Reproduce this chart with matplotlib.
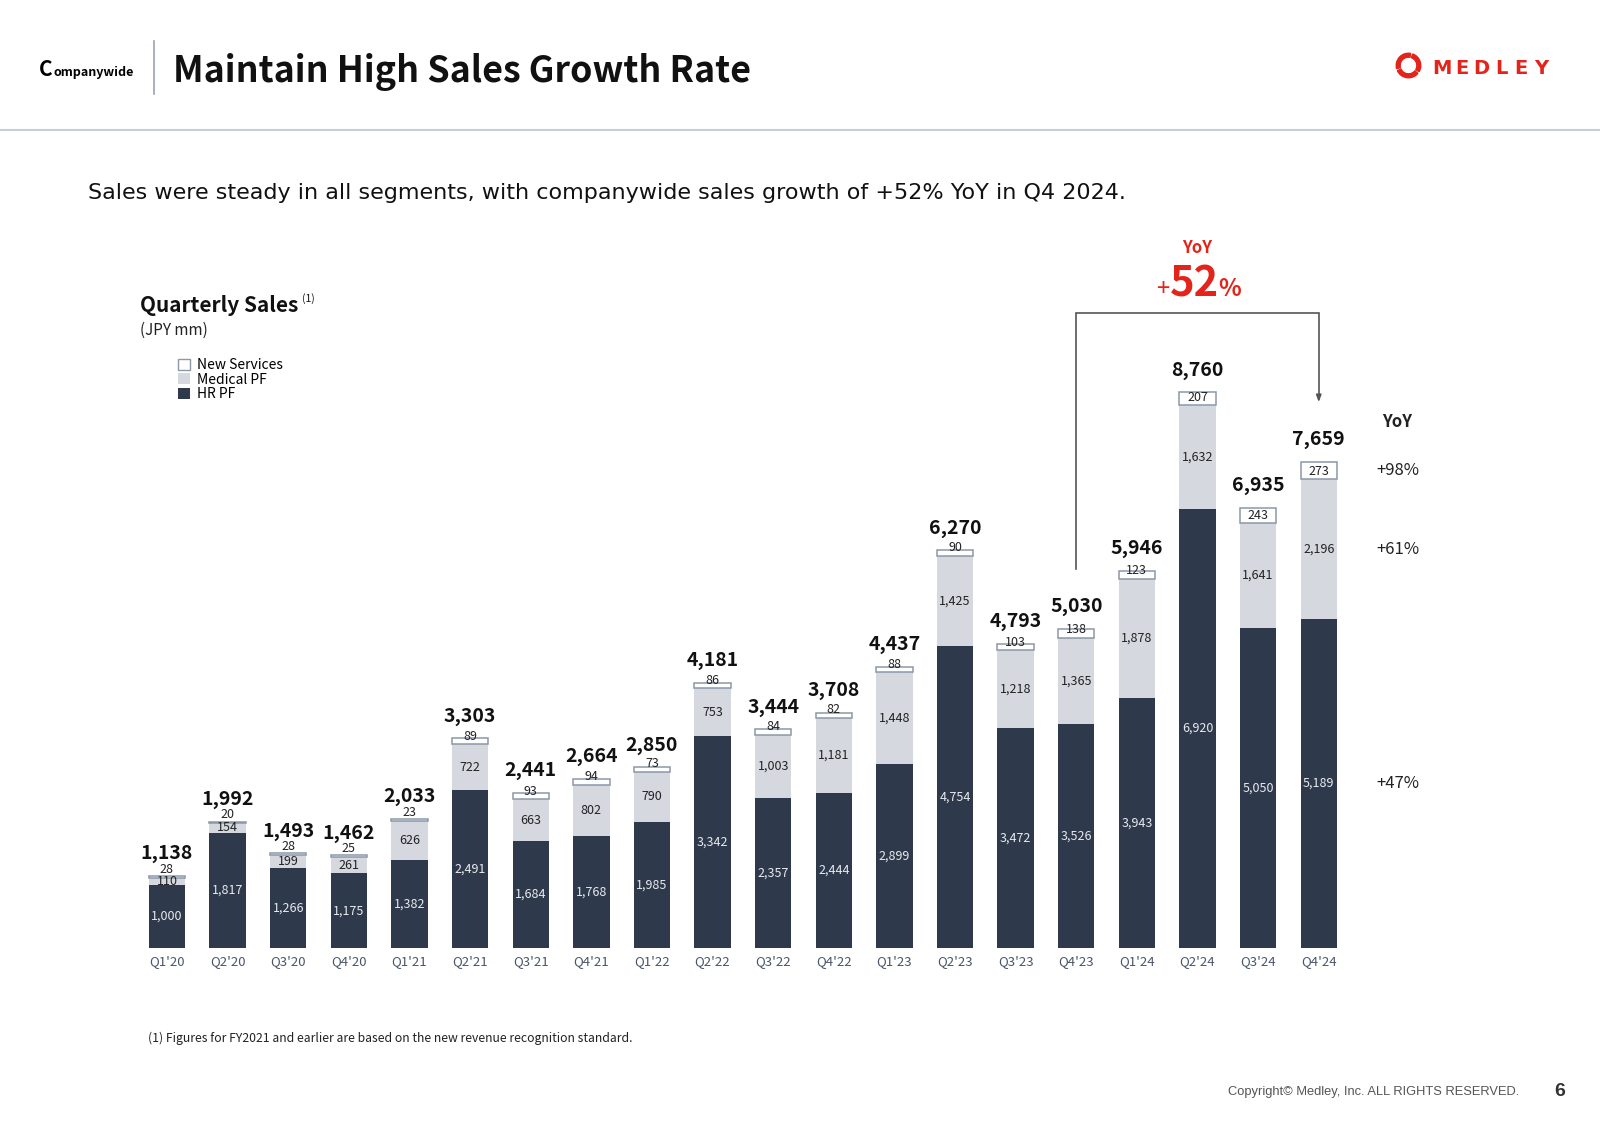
import matplotlib.pyplot as plt
import numpy as np
from matplotlib.patches import Patch, Wedge
from matplotlib.lines import Line2D

quarters = ["Q1'20", "Q2'20", "Q3'20", "Q4'20", "Q1'21", "Q2'21", "Q3'21", "Q4'21",
            "Q1'22", "Q2'22", "Q3'22", "Q4'22", "Q1'23", "Q2'23", "Q3'23", "Q4'23",
            "Q1'24", "Q2'24", "Q3'24", "Q4'24"]
hr_pf = [1000, 1817, 1266, 1175, 1382, 2491, 1684, 1768, 1985, 3342,
         2357, 2444, 2899, 4754, 3472, 3526, 3943, 6920, 5050, 5189]
medical_pf = [110, 154, 199, 261, 626, 722, 663, 802, 790, 753,
              1003, 1181, 1448, 1425, 1218, 1365, 1878, 1632, 1641, 2196]
new_services = [28, 20, 28, 25, 23, 89, 93, 94, 73, 86,
                84, 82, 88, 90, 103, 138, 123, 207, 243, 273]
totals = [1138, 1992, 1493, 1462, 2033, 3303, 2441, 2664, 2850, 4181,
          3444, 3708, 4437, 6270, 4793, 5030, 5946, 8760, 6935, 7659]
segment_yoy = ["+98%", "+61%", "+47%"]   # new services, medical, hr (Q4'24)
total_yoy = "52"

HR = '#2e3a4b'
MED = '#d5d8df'
EDGE = '#8c97a8'
RED = '#e3241b'
TICK = '#4a5568'
SANS = ['Noto Sans CJK JP', 'DejaVu Sans']

plt.rcParams['font.family'] = SANS

W, H = 1600, 1131
fig = plt.figure(figsize=(16, 11.31), dpi=100)


def fx(px):
    return px / W


def fy(py):
    return 1 - py / H


# main axes: bars at x = 0..19, baseline at y px 948
ax = fig.add_axes([fx(130.6), fy(948), (1440 - 130.6) / W, 717 / H])
ax.set_xlim(-0.6, 21.0)
ax.set_ylim(0, 11300)
ax.axis('off')

x = np.arange(len(quarters))
hr = np.array(hr_pf)
med = np.array(medical_pf)
new = np.array(new_services)
bw = 0.6

ax.bar(x, hr, bw, color=HR, linewidth=0)
ax.bar(x, med, bw, bottom=hr, color=MED, linewidth=0)
ax.bar(x, new, bw, bottom=hr + med, color='white', edgecolor=EDGE, linewidth=1.1)

for i in x:
    ax.text(i, hr[i] / 2, f'{hr[i]:,}', ha='center', va='center', fontsize=9, color='#e8eaee')
    ax.text(i, hr[i] + med[i] / 2, f'{med[i]:,}', ha='center', va='center', fontsize=9, color='#222')
    ax.annotate(f'{new[i]:,}', (i, hr[i] + med[i]), xytext=(0, 5.8), textcoords='offset points',
                ha='center', va='center', fontsize=9, color='#222')
    ax.annotate(f'{totals[i]:,}', (i, hr[i] + med[i] + new[i]), xytext=(0, 16),
                textcoords='offset points', ha='center', va='center', fontsize=14,
                fontweight='bold', color='#111')
    ax.annotate(quarters[i], (i, 0), xytext=(0, -10), textcoords='offset points',
                ha='center', va='center', fontsize=9.5, color=TICK)

# YoY column for the latest quarter
last = len(quarters) - 1
xc = last + 1.3
ax.annotate('YoY', (xc, totals[last]), xytext=(0, 29), textcoords='offset points',
            ha='center', va='center', fontsize=12, fontweight='bold', color='#222')
seg_mid = [hr[last] + med[last] + new[last] / 2, hr[last] + med[last] / 2, hr[last] / 2]
for lab, ym in zip(segment_yoy, seg_mid):
    ax.text(xc, ym, lab, ha='center', va='center', fontsize=12, color='#222')

# bracket from Q4'23 to Q4'24
prev = last - 4
top = max(totals) + 1250
ax.plot([prev, prev, last, last], [totals[prev] + 940, top, top, totals[last] + 1050],
        color='#555', lw=1.2, solid_joinstyle='miter')
ax.annotate('', xy=(last, totals[last] + 900), xytext=(last, totals[last] + 1100),
            arrowprops=dict(arrowstyle='-|>,head_length=0.4,head_width=0.15', color='#555', lw=1.2))
xm = last - 2
ax.annotate('YoY', (xm, top), xytext=(0, 47), textcoords='offset points', ha='center',
            va='center', fontsize=12, fontweight='bold', color=RED)
ax.annotate(total_yoy, (xm, top), xytext=(-2, 12), textcoords='offset points', ha='center',
            va='baseline', fontsize=30, fontweight='bold', color=RED)
ax.annotate('+', (xm, top), xytext=(-20, 12), textcoords='offset points', ha='right',
            va='baseline', fontsize=17, color=RED)
ax.annotate('%', (xm, top), xytext=(15, 12), textcoords='offset points', ha='left',
            va='baseline', fontsize=17, fontweight='bold', color=RED)

# legend
handles = [Patch(facecolor='white', edgecolor=EDGE, linewidth=1),
           Patch(facecolor=MED, edgecolor='none'),
           Patch(facecolor=HR, edgecolor='none')]
ax.legend(handles, ['New Services', 'Medical PF', 'HR PF'], loc='upper left',
          bbox_to_anchor=(fx(178), fy(358)), bbox_transform=fig.transFigure, frameon=False,
          fontsize=10, handlelength=0.85, handleheight=0.85, handletextpad=0.55,
          labelspacing=0.05, borderpad=0, borderaxespad=0)

# header
fig.text(fx(39), fy(76), 'C', fontsize=15, fontweight='bold', va='baseline')
fig.text(fx(53), fy(76), 'ompanywide', fontsize=9, fontweight='bold', va='baseline')
fig.add_artist(Line2D([fx(154), fx(154)], [fy(41), fy(94)], color='#9aa3b0', lw=1.2))
fig.text(fx(173), fy(82), 'Maintain High Sales Growth Rate', fontsize=25.8, fontweight='bold',
         va='baseline', color='#111')
fig.add_artist(Line2D([0, 1], [fy(130), fy(130)], color='#c9ced6', lw=1.5))

# logo
lax = fig.add_axes([fx(1395), fy(79), 27 / W, 27 / H])
lax.set_xlim(-1.1, 1.1)
lax.set_ylim(-1.1, 1.1)
lax.axis('off')
for t1, t2 in [(80, 195), (205, 320), (330, 430)]:
    lax.add_patch(Wedge((0, 0), 1.0, t1, t2, width=0.32, color=RED))
for k, ch in enumerate('MEDLEY'):
    fig.text(fx(1442 + k * 19.8), fy(69), ch, fontsize=14, fontweight='bold', color=RED,
             ha='center', va='center', family=['DejaVu Sans'])

fig.text(fx(88), fy(193), 'Sales were steady in all segments, with companywide sales growth '
         'of +52% YoY in Q4 2024.', fontsize=16, va='center', color='#111',
         family=['DejaVu Sans'])
fig.text(fx(140), fy(305), 'Quarterly Sales', fontsize=15, fontweight='bold', va='center', color='#111')
fig.text(fx(302), fy(299), '(1)', fontsize=7.5, va='center', color='#111')
fig.text(fx(140), fy(330), '(JPY mm)', fontsize=11, va='center', color='#222')

fig.text(fx(148), fy(1038), '(1) Figures for FY2021 and earlier are based on the new revenue '
         'recognition standard.', fontsize=8.8, va='center', color='#222')
fig.text(fx(1519), fy(1092), 'Copyright\u00a9 Medley, Inc. ALL RIGHTS RESERVED.', fontsize=9.3,
         ha='right', va='center', color='#555', family=['Liberation Sans', 'DejaVu Sans'])
fig.text(fx(1560), fy(1092), '6', fontsize=14, fontweight='bold', ha='center', va='center',
         color='#333', family=['Liberation Sans', 'DejaVu Sans'])

fig.savefig('out.png', dpi=100)
